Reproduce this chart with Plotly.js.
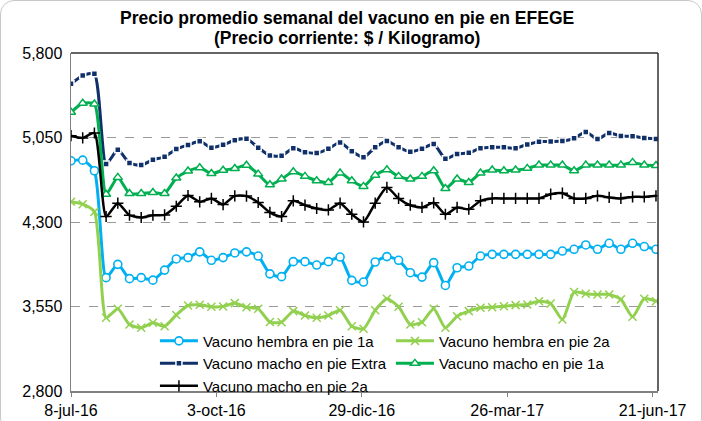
<!DOCTYPE html>
<html>
<head>
<meta charset="utf-8">
<script src="https://cdn.plot.ly/plotly-3.0.1.min.js"></script>
<style>
html,body{margin:0;padding:0;background:#fff;}
#wrap{position:absolute;left:0;top:0;width:700px;height:430px;border:1px solid #c8c8c8;border-radius:14px;overflow:hidden;}
#chart{position:absolute;left:-1px;top:-1px;width:702px;height:421px;}
</style>
</head>
<body>
<div id="wrap"><div id="chart"></div></div>
<script>
// Weekly dates
var fechas = [
"2016-07-08","2016-07-15","2016-07-22","2016-07-29","2016-08-05","2016-08-12","2016-08-19","2016-08-26",
"2016-09-02","2016-09-09","2016-09-16","2016-09-23","2016-09-30","2016-10-07","2016-10-14","2016-10-21",
"2016-10-28","2016-11-04","2016-11-11","2016-11-18","2016-11-25","2016-12-02","2016-12-09","2016-12-16",
"2016-12-23","2016-12-30","2017-01-06","2017-01-13","2017-01-20","2017-01-27","2017-02-03","2017-02-10",
"2017-02-17","2017-02-24","2017-03-03","2017-03-10","2017-03-17","2017-03-24","2017-03-31","2017-04-07",
"2017-04-14","2017-04-21","2017-04-28","2017-05-05","2017-05-12","2017-05-19","2017-05-26","2017-06-02",
"2017-06-09","2017-06-16","2017-06-23"];

var hembra1a = [4843,4849,4755,3806,3924,3797,3806,3784,3873,3972,3984,4035,3960,3984,4025,4035,
3998,3840,3815,3948,3948,3918,3948,3989,3782,3767,3945,3993,3960,3850,3811,3939,
3737,3894,3909,3998,4013,4013,4013,4013,4013,4013,4042,4058,4096,4058,4111,4058,4111,4082,4058];

var hembra2a = [4479,4458,4390,3450,3530,3390,3361,3405,3375,3475,3559,3565,3548,3550,3580,3543,
3530,3412,3411,3509,3470,3450,3470,3517,3375,3352,3517,3619,3548,3390,3411,3530,
3361,3464,3509,3539,3544,3553,3562,3568,3597,3577,3435,3678,3663,3657,3657,3613,3459,3619,3597];

var machoExtra = [5526,5600,5615,4814,4941,4823,4805,4852,4879,4948,4983,5016,4960,4985,5025,5040,
4960,4890,4888,4954,4920,4912,4950,5005,4928,4874,4963,5020,4963,4924,4950,4992,
4862,4903,4914,4954,4963,4963,4955,4988,5013,5014,5018,5043,5099,5037,5090,5063,5061,5045,5037];

var macho1a = [5274,5354,5348,4547,4696,4553,4553,4562,4553,4690,4752,4782,4730,4759,4775,4803,
4725,4630,4681,4746,4705,4666,4651,4734,4666,4616,4716,4763,4705,4681,4705,4755,
4598,4681,4651,4734,4761,4755,4761,4776,4805,4805,4805,4755,4805,4805,4805,4805,4829,4805,4802];

var macho2a = [5066,5046,5090,4349,4467,4360,4340,4360,4363,4440,4535,4479,4509,4455,4532,4530,
4473,4385,4349,4488,4449,4420,4407,4467,4369,4301,4467,4607,4509,4449,4429,4470,
4369,4429,4413,4488,4509,4509,4509,4509,4509,4547,4556,4509,4509,4532,4518,4509,4523,4523,4532];

var tickFechas = ["2016-07-08","2016-10-03","2016-12-29","2017-03-26","2017-06-21"];
var tickTextos = ["8-jul-16","3-oct-16","29-dic-16","26-mar-17","21-jun-17"];
var yTicks = [2800,3550,4300,5050,5800];
var yTextos = ["2,800","3,550","4,300","5,050","5,800"];

var nombres = ["Vacuno hembra en pie 1a","Vacuno hembra en pie 2a","Vacuno macho en pie Extra","Vacuno macho en pie 1a","Vacuno macho en pie 2a"];
var titulo1 = "Precio promedio semanal del vacuno en pie en EFEGE";
var titulo2 = "(Precio corriente: $ / Kilogramo)";

var sm = 0.6;
var traces = [
 {x:fechas,y:hembra1a,name:nombres[0],type:'scatter',mode:'lines+markers',
  line:{color:'#00B0F0',width:3,shape:'spline',smoothing:sm},
  marker:{symbol:'circle',size:8,color:'#ffffff',line:{color:'#00B0F0',width:1.6}}},
 {x:fechas,y:hembra2a,name:nombres[1],type:'scatter',mode:'lines+markers',
  line:{color:'#92D050',width:3,shape:'spline',smoothing:sm},
  marker:{symbol:'x-thin-open',size:8,color:'#92D050',line:{color:'#92D050',width:1.5}}},
 {x:fechas,y:machoExtra,name:nombres[2],type:'scatter',mode:'lines+markers',
  line:{color:'#10306A',width:3,shape:'spline',smoothing:sm},
  marker:{symbol:'square',size:6,color:'#10306A',line:{color:'#ffffff',width:1.5}}},
 {x:fechas,y:macho1a,name:nombres[3],type:'scatter',mode:'lines+markers',
  line:{color:'#00B050',width:3,shape:'spline',smoothing:sm},
  marker:{symbol:'triangle-up',size:8,color:'#ffffff',line:{color:'#00B050',width:1.5}}},
 {x:fechas,y:macho2a,name:nombres[4],type:'scatter',mode:'lines+markers',
  line:{color:'#000000',width:2.5,shape:'spline',smoothing:sm},
  marker:{symbol:'cross-thin-open',size:8,color:'#000000',line:{color:'#000000',width:1.5}}}
];

var tf = {size:17.5,family:'Arial, "Liberation Sans", sans-serif',color:'#000'};
var layout = {
  width:702, height:421,
  margin:{l:71,r:44,t:53,b:30},
  paper_bgcolor:'rgba(0,0,0,0)', plot_bgcolor:'#ffffff',
  font:{family:'Arial, "Liberation Sans", sans-serif',size:16,color:'#000'},
  annotations:[
    {text:'<b>'+titulo1+'</b>',xref:'paper',yref:'paper',x:0.470,y:1.1036,xanchor:'center',yanchor:'middle',showarrow:false,font:tf},
    {text:'<b>'+titulo2+'</b>',xref:'paper',yref:'paper',x:0.470,y:1.0444,xanchor:'center',yanchor:'middle',showarrow:false,font:tf}
  ],
  xaxis:{type:'date',range:['2016-07-08','2017-06-24 05:00'],tickvals:tickFechas,ticktext:tickTextos,
    showgrid:false,zeroline:false,showline:true,linecolor:'#808080',linewidth:1.5,mirror:false,
    ticks:'outside',ticklen:4,tickcolor:'#808080',tickfont:{size:16},fixedrange:true},
  yaxis:{range:[2800,5800],tickvals:yTicks,ticktext:yTextos,showgrid:true,gridcolor:'#9a9a9a',griddash:'dash',gridwidth:1,
    zeroline:false,showline:true,linecolor:'#808080',linewidth:1.5,ticks:'',tickfont:{size:16},ticklabelstandoff:4},
  shapes:[
    {type:'line',xref:'paper',yref:'paper',x0:0,x1:1,y0:1,y1:1,line:{color:'#303030',width:1.5}},
    {type:'line',xref:'paper',yref:'paper',x0:1,x1:1,y0:0,y1:1,line:{color:'#303030',width:1.5}}
  ],
  legend:{orientation:'h',x:0.143,xanchor:'left',y:0.081,yanchor:'middle',bgcolor:'rgba(0,0,0,0)',
    font:{size:15,family:'Arial, "Liberation Sans", sans-serif'},itemwidth:38,entrywidth:183,entrywidthmode:'pixels',
    tracegroupgap:0,traceorder:'normal'},
  showlegend:true
};

Plotly.newPlot('chart',traces,layout,{displayModeBar:false,staticPlot:true});
</script>
</body>
</html>
